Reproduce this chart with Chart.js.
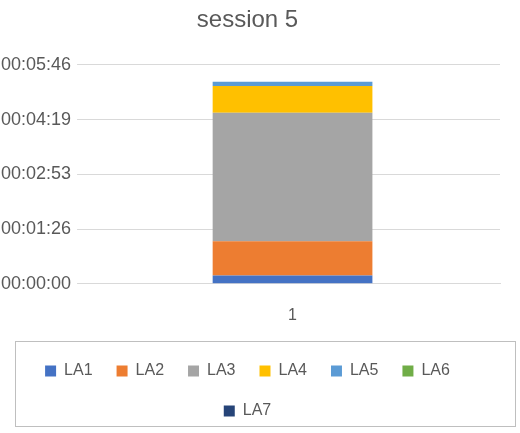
<!DOCTYPE html>
<html><head><script src="https://cdn.jsdelivr.net/npm/chart.js"></script>
<style>body{margin:0;overflow:hidden;background:#fff}#w{position:absolute;left:-5px;top:0;width:525px;height:433px}</style></head>
<body><div id="w"><canvas id="c"></canvas></div>
<script>
const categories=["1"];
const seriesNames=["LA1","LA2","LA3","LA4","LA5","LA6","LA7"];
const seriesValues=[[13],[54],[203],[42],[7],[0],[0]];
const colors=["#4472C4","#ED7D31","#A5A5A5","#FFC000","#5B9BD5","#70AD47","#264478"];
const tickValues=[0,86.4,172.8,259.2,345.6];
function fmt(s){s=Math.round(s);const h=Math.floor(s/3600),m=Math.floor(s%3600/60),x=s%60;return [h,m,x].map(v=>String(v).padStart(2,'0')).join(':');}
const legendBox={id:'lb',afterDraw(ch){const l=ch.legend;if(!l)return;const c=ch.ctx;c.save();c.strokeStyle='#bfbfbf';c.lineWidth=1;c.strokeRect(20.5,l.top+2.5,500,l.height-5);c.restore();}};
new Chart(document.getElementById('c'),{type:'bar',
data:{labels:categories,datasets:seriesNames.map((n,i)=>({label:n,data:seriesValues[i],backgroundColor:colors[i],barPercentage:0.385,categoryPercentage:1}))},
options:{responsive:true,maintainAspectRatio:false,animation:false,
layout:{padding:{left:0,right:20,top:6,bottom:4}},
plugins:{title:{display:true,text:'session 5',color:'#595959',font:{family:'Liberation Sans',size:24,weight:'normal'},padding:{top:0,bottom:30}},
legend:{position:'bottom',labels:{boxWidth:11,boxHeight:11,color:'#595959',font:{family:'Liberation Sans',size:16},padding:24},
},tooltip:{enabled:false}},
scales:{x:{stacked:true,grid:{display:false},border:{color:'#d9d9d9'},ticks:{color:'#595959',font:{family:'Liberation Sans',size:16},padding:14}},
y:{stacked:true,min:0,max:345.6,afterBuildTicks(a){a.ticks=tickValues.map(v=>({value:v}));},
grid:{color:'#d9d9d9'},border:{display:false},ticks:{color:'#595959',font:{family:'Liberation Sans',size:18},padding:6,callback:v=>fmt(v)}}}},
plugins:[legendBox]});
</script></body></html>
